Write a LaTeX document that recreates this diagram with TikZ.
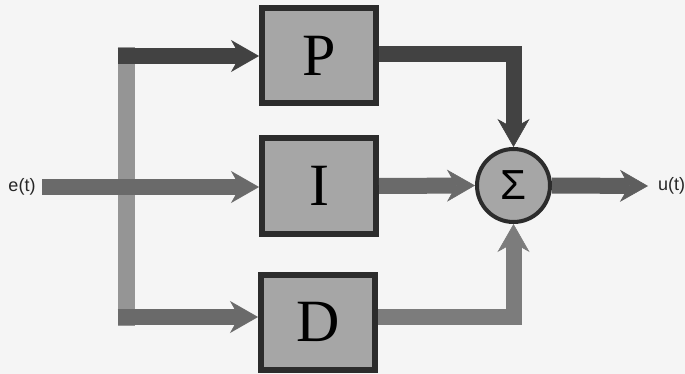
\documentclass[tikz,border=0pt]{standalone}
\usepackage{fontspec}
\setmainfont{Liberation Serif}
\newfontfamily\labfont{Liberation Sans}
\usetikzlibrary{arrows.meta,calc}
\definecolor{bg}{HTML}{F5F5F5}
\definecolor{boxfill}{HTML}{A6A6A6}
\definecolor{boxline}{HTML}{2C2C2C}
\definecolor{busgray}{HTML}{959595}
\definecolor{shaftgray}{HTML}{6A6A6A}
\definecolor{darkshaft}{HTML}{424242}
\definecolor{midshaft}{HTML}{7C7C7C}
\begin{document}
\begin{tikzpicture}[x=1pt,y=-1pt,
  blockbox/.style={draw=boxline, fill=boxfill, line width=6pt,
    minimum width=114pt, minimum height=95pt, inner sep=0pt,
    font=\fontsize{60}{60}\selectfont},
  sumnode/.style={circle, draw=boxline, fill=boxfill, line width=4pt,
    minimum size=73pt, inner sep=0pt,
    font=\labfont\fontsize{42}{42}\selectfont},
  conn/.style={line width=16pt, line join=miter,
    -{Stealth[length=28pt,width=32pt,inset=9pt,line width=0.6pt]}},
  busline/.style={line width=17pt, line cap=rect, draw=busgray},
  siglabel/.style={font=\labfont\fontsize{18}{18}\selectfont, text=black!85, inner sep=0pt}
]
\useasboundingbox[fill=bg] (0,0) rectangle (685,374);

% blocks
\node[blockbox] (P) at (319,56) {P};
\node[blockbox] (I) at (319,186) {I};
\node[blockbox] (D) at (318,322) {D};
\node[sumnode] (S) at (513.5,185.5) {Σ};

% labels and free ends
\node[siglabel, anchor=center] (et) at (22,187) {e(t)};
\coordinate (ein) at (42,187);
\node[siglabel, anchor=west] (ut) at (658,186) {u(t)};
\coordinate (uend) at (648,186);

% distribution bus
\coordinate (bt) at (126,56);
\coordinate (bb) at (126,317);
\draw[busline] (bt) -- (bb);
\draw[conn, draw=darkshaft] ($(bt)+(-8.5,0)$) -- (P.west |- bt);
\draw[conn, draw=shaftgray] ($(bb)+(-8.5,0)$) -- (D.west |- bb);

% main input
\draw[conn, draw=shaftgray] (ein) -- (I.west |- ein);

% outputs to summing junction
\draw[conn, draw=darkshaft] (P.east |- 0,54) -| (S.north);
\draw[conn, draw=shaftgray] (I.east) -- (S.west);
\draw[conn, draw=midshaft] (D.east |- bb) -| (S.south);
\draw[conn, draw=darkshaft!85!white] (S.east) -- (uend);
\end{tikzpicture}
\end{document}
